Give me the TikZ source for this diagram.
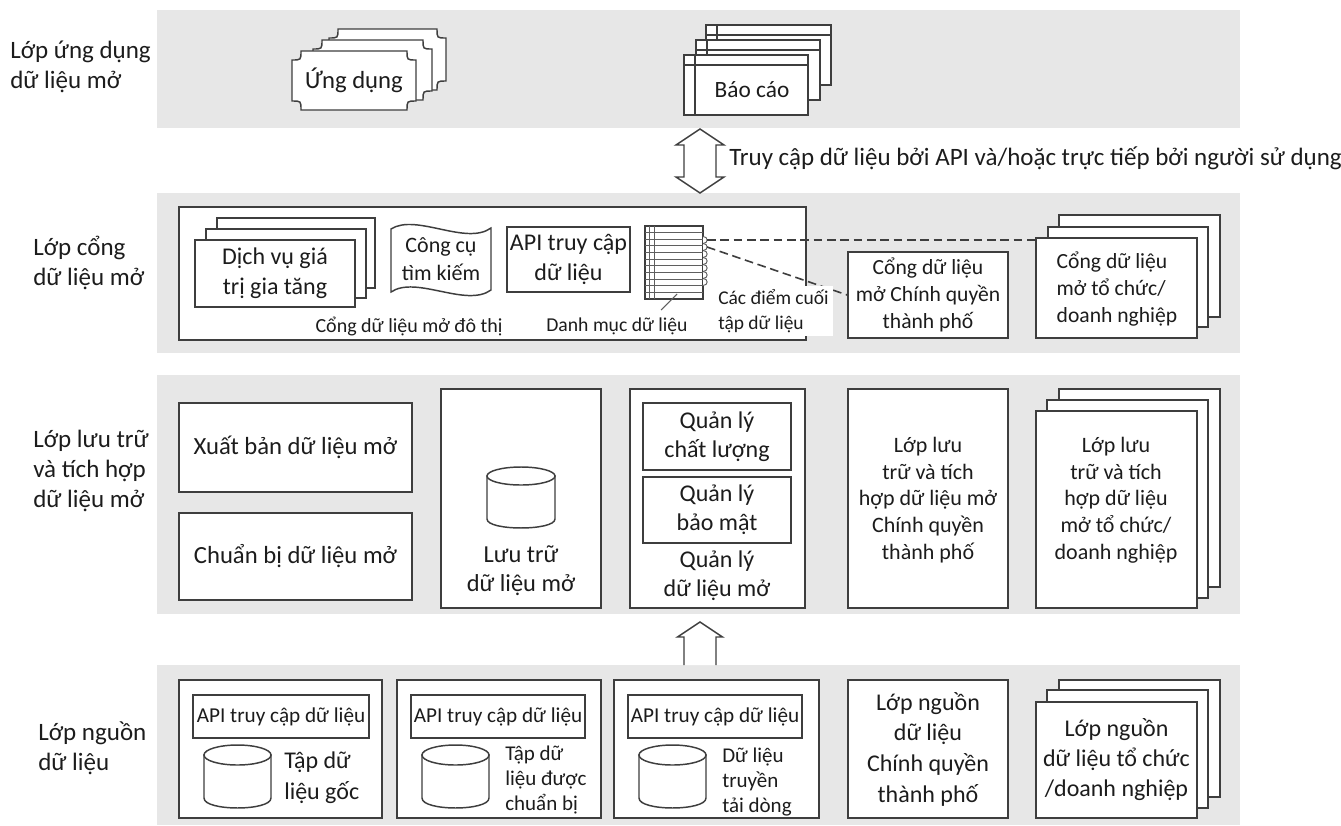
\documentclass[tikz,border=0pt]{standalone}
\usepackage{fontspec}
\setmainfont{Carlito}
\usetikzlibrary{fit,calc}

\definecolor{bandgray}{RGB}{231,231,231}
\definecolor{linec}{RGB}{62,62,62}
\definecolor{textc}{RGB}{28,28,28}
\definecolor{iconc}{RGB}{95,95,95}

\newcommand{\fsz}[2]{\fontsize{#1pt}{#2pt}\selectfont}
% plain box from (x1,y1) to (x2,y2)
\newcommand{\rbox}[5]{\node[box, fit={(#2,#3) (#4,#5)}] (#1) {};}
% report card: box with a left margin line and a header line
\newcommand{\card}[5]{%
  \rbox{#1}{#2}{#3}{#4}{#5}
  \draw[lnk] (#2+11,#3) -- (#2+11,#5);
  \draw[lnk] (#2,#3+10) -- (#4,#3+10);}
% plaque with concave corners
\newcommand{\plaque}[5]{%
  \path[box] (#2+9,#3) -- (#4-9,#3) .. controls (#4-9,#3+9) .. (#4,#3+9)
    -- (#4,#5-9) .. controls (#4-9,#5-9) .. (#4-9,#5)
    -- (#2+9,#5) .. controls (#2+9,#5-9) .. (#2,#5-9)
    -- (#2,#3+9) .. controls (#2+9,#3+9) .. (#2+9,#3) -- cycle;
  \coordinate (#1) at ({(#2+#4)/2},{(#3+#5)/2});}
% database cylinder: name, cx, top, bottom, rx, ry
\newcommand{\cyl}[6]{%
  \path[box] (#2-#5,#3) -- (#2-#5,#4)
    .. controls (#2-#5,#4+1.33*#6) and (#2+#5,#4+1.33*#6) .. (#2+#5,#4)
    -- (#2+#5,#3) -- cycle;
  \draw[box] (#2,#3) ellipse [x radius=#5, y radius=#6];
  \coordinate (#1) at (#2,{(#3+#4)/2});}

\begin{document}
\begin{tikzpicture}[x=0.75pt,y=-0.75pt,
  box/.style={draw=linec, fill=white, line width=1.1pt, inner sep=0pt},
  lnk/.style={draw=linec, line width=1.1pt},
  iconline/.style={draw=iconc, line width=0.7pt},
  txt/.style={text=textc, inner sep=0pt, align=center},
  dashl/.style={draw=linec, line width=1.2pt, dash pattern=on 6.5pt off 3.5pt},
  barrow/.style={draw=linec, fill=white, line width=1.1pt, line join=miter}]
\useasboundingbox (0,0) rectangle (1341,825);

% ---------- layer bands ----------
\fill[bandgray] (157,10) rectangle (1240,128);
\fill[bandgray] (157,193) rectangle (1240,353);
\fill[bandgray] (157,375) rectangle (1240,614);
\fill[bandgray] (157,665) rectangle (1240,825);

% ---------- layer titles ----------
\begin{scope}[every node/.style={txt, align=left, anchor=west, font=\fsz{18.75}{22.5}}]
\node (labApp) at (10,67) {Lớp ứng dụng\\dữ liệu mở};
\node (labPortal) at (33,263) {Lớp cổng\\dữ liệu mở};
\node (labStore) at (33,471) {Lớp lưu trữ\\và tích hợp\\dữ liệu mở};
\node (labSrc) at (38,748) {Lớp nguồn\\dữ liệu};
\end{scope}

% ---------- application layer ----------
\plaque{appC}{329}{29}{446}{90}
\plaque{appB}{313}{40}{432}{100}
\plaque{appA}{292}{51}{416}{110}
\node[txt, font=\fsz{18.5}{22}] (appT) at (appA) {Ứng dụng};

\card{repC}{706}{25}{831}{85}
\card{repB}{696}{40}{820}{100}
\card{repA}{684}{55}{808}{115}
\node[txt, font=\fsz{17.5}{21}] (repT) at ($(repA.center)+(6,5)$) {Báo cáo};

% ---------- access arrow ----------
\coordinate (accTop) at (700,129);
\coordinate (accBot) at (700,193);
\draw[barrow] (accTop) -- ++(24,16) -- ++(-8,0) -- ($(accBot)+(16,-16)$) -- ++(8,0)
  -- (accBot) -- ++(-24,-16) -- ++(8,0) -- ($(accTop)+(-16,16)$) -- ++(-8,0) -- cycle;
\node[txt, anchor=west, font=\fsz{18.75}{22}] (accT) at (729,158)
  {Truy cập dữ liệu bởi API và/hoặc trực tiếp bởi người sử dụng};

% ---------- portal layer ----------
\rbox{urbP}{179}{207}{806}{340}

\rbox{vasC}{217}{218}{375}{288}
\rbox{vasB}{206}{229}{366}{298}
\rbox{vasA}{195}{240}{355}{307}
\node[txt, font=\fsz{18}{22.5}] (vasT) at (vasA) {Dịch vụ giá\\trị gia tăng};

\path[box] (391,229) .. controls (416,213) and (466,246) .. (491,228)
  -- (491,290) .. controls (466,308) and (416,275) .. (391,292) -- cycle;
\node[txt, font=\fsz{16.5}{21}] (srchT) at (441,259) {Công cụ\\tìm kiếm};

\rbox{apiP}{507}{227}{630}{292}
\node[txt, font=\fsz{18}{23}] (apiPT) at (apiP) {API truy cập\\dữ liệu};

\node[txt, font=\fsz{15}{18}] (urbT) at (409,326) {Cổng dữ liệu mở đô thị};

% data catalogue icon
\rbox{cat}{645}{226}{703}{299}
\foreach \k in {1,...,10} \draw[iconline] (645,226+\k*6.64) -- (703,226+\k*6.64);
\draw[iconline] (649,226) -- (649,299);
\draw[iconline] (654,226) -- (654,299);
\foreach \yy in {240,247,254,261,268,275,282}
  \draw[iconline, fill=white] (703,\yy-3.5) .. controls (708.5,\yy-3.5) and (708.5,\yy+3.5) .. (703,\yy+3.5);
\coordinate (ep1) at (707,240);
\coordinate (ep2) at (707,247);
\coordinate (catLead) at (677,294);
\coordinate (leadEnd) at (661,310);
\draw[iconline, line width=0.8pt] (catLead) -- (leadEnd);
\node[txt, font=\fsz{14.75}{18}] (catT) at (617,326) {Danh mục dữ liệu};

\rbox{cityP}{848}{252}{1008}{338}
\node[txt, font=\fsz{16.2}{20}] (cityPT) at (cityP) {Cổng dữ liệu\\mở Chính quyền\\thành phố};

\rbox{orgPC}{1059}{215}{1220}{317}
\rbox{orgPB}{1048}{227}{1208}{327}
\rbox{orgP}{1036}{238}{1197}{338}
\node[txt, align=left, font=\fsz{16.2}{20.5}] (orgPT) at (1117,289) {Cổng dữ liệu\\mở tổ chức/\\doanh nghiệp};

% dataset endpoints
\draw[dashl] (ep1) -- (ep1 -| orgP.west);
\draw[dashl] (ep2) -- (cityP.west);
\node[fill=white, inner sep=0pt, fit={(713,286) (833,336)}] (epBox) {};
\node[txt, align=left, anchor=west, font=\fsz{14.6}{19}] (epT) at (718,311) {Các điểm cuối\\tập dữ liệu};

% ---------- storage and integration layer ----------
\rbox{pubB}{179}{403}{412}{492}
\node[txt, font=\fsz{18.5}{22}] (pubT) at (pubB) {Xuất bản dữ liệu mở};
\rbox{prepB}{179}{513}{412}{600}
\node[txt, font=\fsz{18.5}{22}] (prepT) at (prepB) {Chuẩn bị dữ liệu mở};

\rbox{stoB}{441}{389}{601}{608}
\cyl{stoCyl}{521}{476}{519}{34}{9}
\node[txt, font=\fsz{18.3}{21.5}] (stoT) at (521,571) {Lưu trữ\\dữ liệu mở};

\rbox{mgmB}{630}{389}{805}{608}
\rbox{qualB}{643}{403}{791}{470}
\node[txt, font=\fsz{18}{22}] (qualT) at (qualB) {Quản lý\\chất lượng};
\rbox{secB}{643}{477}{791}{543}
\node[txt, font=\fsz{18}{22}] (secT) at (secB) {Quản lý\\bảo mật};
\node[txt, font=\fsz{18}{22}] (mgmT) at (717,576) {Quản lý\\dữ liệu mở};

\rbox{cityS}{848}{389}{1008}{608}
\node[txt, font=\fsz{16.5}{20}] (cityST) at (928,500) {Lớp lưu\\trữ và tích\\hợp dữ liệu mở\\Chính quyền\\thành phố};

\rbox{orgSC}{1059}{389}{1220}{587}
\rbox{orgSB}{1047}{400}{1208}{598}
\rbox{orgS}{1036}{411}{1197}{608}
\node[txt, font=\fsz{16.5}{20}] (orgST) at (1116,500) {Lớp lưu\\trữ và tích\\hợp dữ liệu\\mở tổ chức/\\doanh nghiệp};

% ---------- upward arrow ----------
\coordinate (upTip) at (700,622);
\coordinate (upBase) at (700,665);
\fill[white] ($(upBase)+(-16,0)$) -- ($(upTip)+(-16,15)$) -- ++(-6.5,0) -- (upTip)
  -- ++(22.5,15) -- ++(-6.5,0) -- ($(upBase)+(16,0)$) -- cycle;
\draw[lnk, line join=miter] ($(upBase)+(-16,0)$) -- ($(upTip)+(-16,15)$) -- ++(-6.5,0) -- (upTip)
  -- ++(22.5,15) -- ++(-6.5,0) -- ($(upBase)+(16,0)$);

% ---------- data source layer ----------
\rbox{src1}{179}{680}{382}{818}
\rbox{api1}{193}{695}{369}{738}
\node[txt, font=\fsz{15.9}{19}] (api1T) at (api1) {API truy cập dữ liệu};
\cyl{cyl1}{237.5}{755}{798}{33.5}{10}
\node[txt, align=left, anchor=west, font=\fsz{18}{23}] (src1T) at (284,778) {Tập dữ\\liệu gốc};

\rbox{src2}{397}{680}{601}{818}
\rbox{api2}{411}{695}{585}{738}
\node[txt, font=\fsz{15.9}{19}] (api2T) at (api2) {API truy cập dữ liệu};
\cyl{cyl2}{455.5}{755}{798}{33.5}{10}
\node[txt, align=left, anchor=west, font=\fsz{15.75}{19}] (src2T) at (505,780) {Tập dữ\\liệu được\\chuẩn bị};

\rbox{src3}{614}{680}{819}{818}
\rbox{api3}{628}{695}{802}{738}
\node[txt, font=\fsz{15.9}{19}] (api3T) at (api3) {API truy cập dữ liệu};
\cyl{cyl3}{672.5}{755}{798}{33.5}{10}
\node[txt, align=left, anchor=west, font=\fsz{15.75}{19}] (src3T) at (722,782) {Dữ liệu\\truyền\\tải dòng};

\rbox{citySrc}{848}{680}{1008}{818}
\node[txt, font=\fsz{18}{23}] (citySrcT) at (citySrc) {Lớp nguồn\\dữ liệu\\Chính quyền\\thành phố};

\rbox{orgSrcC}{1059}{680}{1220}{797}
\rbox{orgSrcB}{1047}{690}{1208}{808}
\rbox{orgSrc}{1036}{702}{1197}{818}
\node[txt, font=\fsz{18}{22.5}] (orgSrcT) at (orgSrc) {Lớp nguồn\\dữ liệu tổ chức\\/doanh nghiệp};
\end{tikzpicture}
\end{document}
